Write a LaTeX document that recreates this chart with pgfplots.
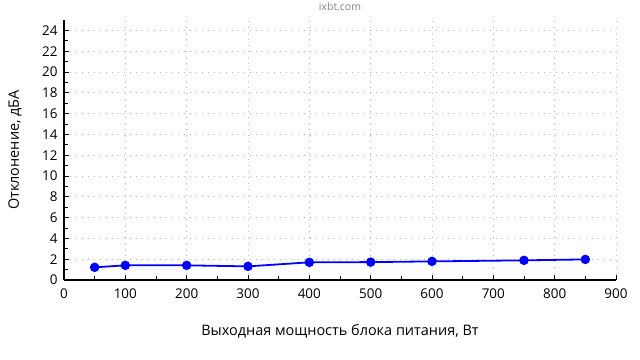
\documentclass[border=0pt]{standalone}
\usepackage{fontspec}
\setmainfont{Open Sans}
\usepackage{pgfplots}
\pgfplotsset{compat=1.18}
\begin{document}
\begin{tikzpicture}[x=1bp,y=1bp]
\begin{axis}[
  at={(0bp,0bp)}, anchor=origin,
  scale only axis, width=552bp, height=260bp,
  xmin=0, xmax=900, ymin=0, ymax=25,
  axis lines*=left,
  axis line style={line width=1.2bp, black},
  xtick={0,100,...,900}, ytick={0,2,...,24},
  minor x tick num=1, minor y tick num=1,
  tick align=inside,
  major tick length=5bp, minor tick length=4bp,
  tick style={black, line width=0.9bp},
  grid=major,
  major grid style={gray!55, line width=0.8bp, dash pattern=on 1bp off 5bp},
  /pgf/number format/assume math mode=true,
  ticklabel style={font=\fontsize{13.5}{15}\selectfont},
  xticklabel style={yshift=-5bp},
  yticklabel style={xshift=-3bp},
  xlabel={Выходная мощность блока питания, Вт},
  ylabel={Отклонение, дБА},
  label style={font=\fontsize{14.5}{17}\selectfont},
  xlabel style={at={(axis description cs:0.5,0)}, anchor=center, yshift=-51bp},
  ylabel style={at={(axis description cs:0,0.5)}, anchor=center, yshift=49bp},
  title={ixbt.com},
  title style={font=\fontsize{10.5}{12}\selectfont, text=gray, at={(axis description cs:0.5,1)}, anchor=center, yshift=7bp},
  clip=false,
]
\addplot[color={rgb,255:red,0;green,0;blue,255}, line width=1.8bp, mark=*, mark size=3.8bp, mark options={solid}] coordinates {
(50,1.22) (100,1.41) (200,1.41) (300,1.31) (400,1.70) (500,1.72) (600,1.79) (750,1.89) (850,1.98)
};
\end{axis}
\pgfresetboundingbox
\path[use as bounding box] (-64bp,-80bp) rectangle (576bp,280bp);
\end{tikzpicture}
\end{document}
